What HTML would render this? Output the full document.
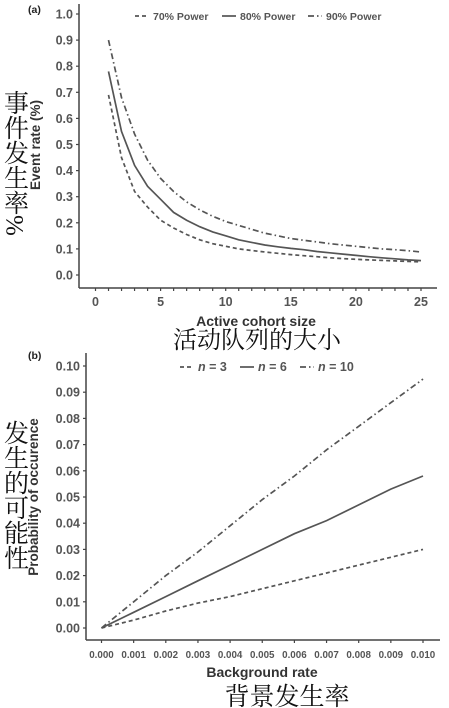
<!DOCTYPE html>
<html><head><meta charset="utf-8"><style>
html,body{margin:0;padding:0;background:#fff;width:449px;height:708px;overflow:hidden}
svg{display:block;font-family:"Liberation Sans",Arial,sans-serif}
.cjk{font-family:"Liberation Serif","Noto Serif CJK SC",serif;fill:#111}
</style></head><body>
<svg id="chart" width="449" height="708" viewBox="0 0 449 708"></svg>
<script>
const aX = [1,2,3,4,5,6,7,8,9,10,11,12,13,14,15,16,17,18,19,20,21,22,23,24,25];
const a70 = [0.69,0.45,0.32,0.26,0.21,0.18,0.155,0.135,0.12,0.11,0.10,0.094,0.088,0.083,0.078,0.074,0.070,0.066,0.063,0.060,0.058,0.056,0.054,0.052,0.050];
const a80 = [0.78,0.55,0.42,0.34,0.29,0.24,0.21,0.185,0.165,0.15,0.135,0.125,0.115,0.108,0.102,0.097,0.09,0.085,0.08,0.075,0.07,0.066,0.062,0.058,0.055];
const a90 = [0.90,0.68,0.54,0.44,0.37,0.32,0.28,0.25,0.225,0.205,0.19,0.175,0.16,0.15,0.14,0.133,0.127,0.12,0.115,0.11,0.105,0.10,0.097,0.093,0.088];
const aXTicks = [0,5,10,15,20,25];
const aYTicks = [0,0.1,0.2,0.3,0.4,0.5,0.6,0.7,0.8,0.9,1.0];
const bX = [0,0.001,0.002,0.003,0.004,0.005,0.006,0.007,0.008,0.009,0.010];
const b3 = [0,0.003,0.0065,0.0095,0.012,0.015,0.018,0.021,0.024,0.027,0.030];
const b6 = [0,0.006,0.012,0.018,0.024,0.030,0.036,0.041,0.047,0.053,0.058];
const b10 = [0,0.010,0.020,0.029,0.039,0.049,0.058,0.068,0.077,0.086,0.095];
const bXTicks = [0,0.001,0.002,0.003,0.004,0.005,0.006,0.007,0.008,0.009,0.010];
const bYTicks = [0,0.01,0.02,0.03,0.04,0.05,0.06,0.07,0.08,0.09,0.10];

const NS="http://www.w3.org/2000/svg";
const svg=document.getElementById('chart');
function mk(tag,attrs,parent){const e=document.createElementNS(NS,tag);for(const k in attrs)e.setAttribute(k,attrs[k]);(parent||svg).appendChild(e);return e;}
const dash={d70:"4,3",d80:"",d90:"6,3,1.5,3"};

const ax=v=>95.5+(v-0)*(421-95.5)/25;
const ay=v=>275-v*(275-14)/1.0;
const bx=v=>101.5+v*(423-101.5)/0.010;
const by=v=>628-v*(628-366)/0.10;

function axes(xs,ys,x0,x1,yTop,yBase,axX,axY,xT,yT,fmtX,fmtY,minorX,prefix){
  let e=mk('line',{x1:axX,y1:yTop,x2:axX,y2:axY,stroke:'#444','stroke-width':1.5});
  
  e=mk('line',{x1:axX,y1:axY,x2:x1,y2:axY,stroke:'#444','stroke-width':1.5});
  
  yT.forEach(v=>{const y=ys(v);
    mk('line',{x1:axX-3,y1:y,x2:axX,y2:y,stroke:'#444','stroke-width':1.2});
    const t=mk('text',{x:axX-6,y:y+4.5,'text-anchor':'end','font-size':12.5,fill:'#555','font-weight':'bold'});t.textContent=fmtY(v);
    });
  minorX.forEach(v=>{mk('line',{x1:xs(v),y1:axY,x2:xs(v),y2:axY+3,stroke:'#444','stroke-width':1.2});});
  xT.forEach(v=>{const x=xs(v);
    const t=mk('text',{x:x,y:axY+(prefix==='a'?18:18),'text-anchor':'middle','font-size':prefix==='a'?12.5:9.8,fill:'#555','font-weight':'bold'});t.textContent=fmtX(v);
    });
}
function series(xs,ys,X,Y,d,name){
  const p=mk('path',{d:X.map((v,i)=>(i?'L':'M')+xs(v).toFixed(1)+','+ys(Y[i]).toFixed(1)).join(''),fill:'none',stroke:'#555','stroke-width':1.7,'stroke-dasharray':d});
  
}
function legend(x,y,d,label,name,italic){
  const g=mk('g',{});
  mk('line',{x1:x,y1:y,x2:x+14,y2:y,stroke:'#555','stroke-width':1.7,'stroke-dasharray':d},g);
  const t=mk('text',{x:x+18,y:y+4,'font-size':italic?12.5:10.5,fill:'#555','font-weight':'bold'},g);t.innerHTML=label;
}
function txt(x,y,s,attrs,name){const t=mk('text',Object.assign({x:x,y:y},attrs));t.textContent=s;return t;}

const minorA=[];for(let i=0;i<=25;i++)minorA.push(i);
axes(ax,ay,0,437,4,275,79,288,aXTicks,aYTicks,v=>String(v),v=>v.toFixed(1),minorA,'a');
series(ax,ay,aX,a70,dash.d70,'series-70-power');
series(ax,ay,aX,a80,dash.d80,'series-80-power');
series(ax,ay,aX,a90,dash.d90,'series-90-power');
legend(135,16,dash.d70,'70% Power','legend-70-power');
legend(222,16,dash.d80,'80% Power','legend-80-power');
legend(308,16,dash.d90,'90% Power','legend-90-power');
txt(28,13,'(a)',{'font-size':10.5,'font-weight':'bold',fill:'#222'},'panel-a-label');
txt(256,326,'Active cohort size',{'text-anchor':'middle','font-size':14,fill:'#333','font-weight':'bold'},'a-x-axis-title');
txt(257,348,'活动队列的大小',{'text-anchor':'middle','font-size':24,class:'cjk'},'a-x-axis-title-cjk');
txt(0,0,'Event rate (%)',{'text-anchor':'middle','font-size':13.5,fill:'#333','font-weight':'bold',transform:'translate(40,145) rotate(-90)'},'a-y-axis-title');
txt(14,90,'事件发生率%',{'font-size':25,class:'cjk',style:'writing-mode:vertical-rl'},'a-y-axis-title-cjk');

axes(bx,by,0,440,353,628,86,640,bXTicks,bYTicks,v=>v.toFixed(3),v=>v.toFixed(2),bXTicks,'b');
series(bx,by,bX,b3,dash.d70,'series-n3');
series(bx,by,bX,b6,dash.d80,'series-n6');
series(bx,by,bX,b10,dash.d90,'series-n10');
legend(180,367,dash.d70,'<tspan font-style="italic">n</tspan> = 3','legend-n3',true);
legend(240,367,dash.d80,'<tspan font-style="italic">n</tspan> = 6','legend-n6',true);
legend(300,367,dash.d90,'<tspan font-style="italic">n</tspan> = 10','legend-n10',true);
txt(28,359,'(b)',{'font-size':10.5,'font-weight':'bold',fill:'#222'},'panel-b-label');
txt(262,677,'Background rate',{'text-anchor':'middle','font-size':14,fill:'#333','font-weight':'bold'},'b-x-axis-title');
txt(287,705,'背景发生率',{'text-anchor':'middle','font-size':25,class:'cjk'},'b-x-axis-title-cjk');
txt(0,0,'Probability of occurence',{'text-anchor':'middle','font-size':13.5,fill:'#333','font-weight':'bold',transform:'translate(38,497) rotate(-90)'},'b-y-axis-title');
txt(14,420,'发生的可能性',{'font-size':25,class:'cjk',style:'writing-mode:vertical-rl'},'b-y-axis-title-cjk');
</script>
</body></html>
